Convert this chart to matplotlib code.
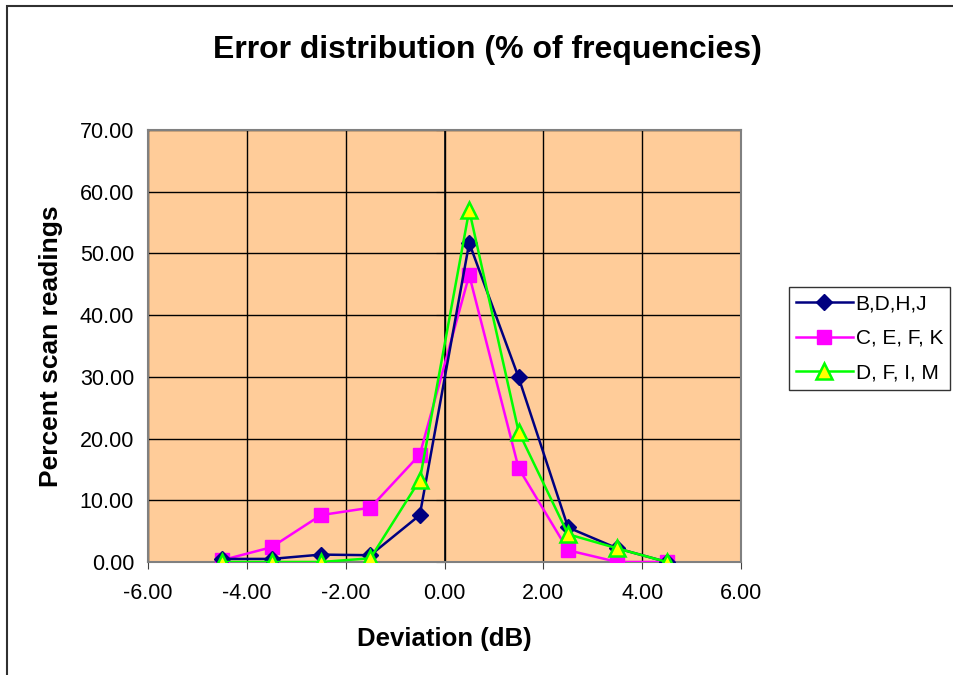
import matplotlib
matplotlib.use("Agg")
import matplotlib.pyplot as plt
from matplotlib.patches import Rectangle

plt.rcParams['font.family'] = ['Liberation Sans', 'DejaVu Sans']

deviation = [-4.5, -3.5, -2.5, -1.5, -0.5, 0.5, 1.5, 2.5, 3.5, 4.5]
bdhj = [0.5, 0.5, 1.2, 1.1, 7.6, 51.7, 29.9, 5.6, 2.2, 0.0]
cefk = [0.3, 2.4, 7.6, 8.8, 17.4, 46.5, 15.2, 1.9, 0.0, 0.0]
dfim = [0.0, 0.0, 0.0, 0.6, 13.3, 57.0, 21.1, 4.5, 2.2, 0.0]

x_ticks = [-6, -4, -2, 0, 2, 4, 6]
y_ticks = [0, 10, 20, 30, 40, 50, 60, 70]

fig = plt.figure(figsize=(9.54, 6.75), dpi=100)
W, H = 954, 675
ax = fig.add_axes([148 / W, 1 - 562 / H, (741 - 148) / W, (562 - 130) / H])
ax.set_facecolor('#FFCC99')

ax.plot(deviation, bdhj, color='#000080', lw=1.8, marker='D', ms=8.5,
        mfc='#000080', mec='#000080', label='B,D,H,J', zorder=5)
ax.plot(deviation, cefk, color='#FF00FF', lw=1.8, marker='s', ms=10,
        mfc='#FF00FF', mec='#FF00FF', label='C, E, F, K', zorder=4)
ax.plot(deviation, dfim, color='#00FF00', lw=1.8, marker='^', ms=11,
        mfc='#FFFF00', mec='#00FF00', mew=1.8, label='D, F, I, M', zorder=6)

ax.set_xlim(-6, 6)
ax.set_ylim(0, 70)
ax.set_xticks(x_ticks)
ax.set_xticklabels([f"{v:.2f}" for v in x_ticks], fontsize=15.5)
ax.set_yticks(y_ticks)
ax.set_yticklabels([f"{v:.2f}" for v in y_ticks], fontsize=15.5)
ax.grid(True, color='black', lw=1.0)
ax.set_axisbelow(True)
for s in ax.spines.values():
    s.set_color('#808080')
    s.set_linewidth(1.5)
ax.tick_params(axis='x', direction='out', length=5, color='#404040', pad=10)
ax.tick_params(axis='y', length=0, pad=10)

sec = ax.secondary_yaxis(0.5)
sec.set_yticks(y_ticks)
sec.set_yticklabels([])
sec.tick_params(axis='y', which='both', left=True, right=False, labelleft=False,
                labelright=False, direction='out', length=6, color='black')
for s in sec.spines.values():
    s.set_color('black')
    s.set_linewidth(1.2)

ax.set_xlabel('Deviation (dB)', fontsize=18.5, fontweight='bold', labelpad=17)
ax.set_ylabel('Percent scan readings', fontsize=19, fontweight='bold', labelpad=12)

fig.text(487 / W, 1 - 50 / H, 'Error distribution (% of frequencies)', fontsize=23,
         fontweight='bold', ha='center', va='center')

leg = fig.legend(loc='upper left', bbox_to_anchor=(789 / W, 1 - 287 / H),
                 bbox_transform=fig.transFigure, fontsize=15, frameon=True,
                 fancybox=False, edgecolor='black', handlelength=2.7,
                 handletextpad=0.15, labelspacing=0.75, borderpad=0.35,
                 borderaxespad=0)
leg.get_frame().set_linewidth(1.0)

fig.patches.append(Rectangle((7.5 / W, -0.1), 1.2, 1 - 6 / H + 0.1, transform=fig.transFigure,
                             fill=False, edgecolor='#303030', lw=1.5, figure=fig))

fig.savefig('out.png', dpi=100)
